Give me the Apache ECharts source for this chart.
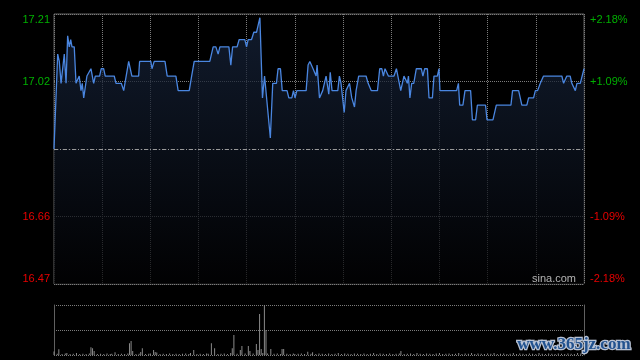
<!DOCTYPE html>
<html>
<head>
<meta charset="utf-8">
<script src="https://cdn.jsdelivr.net/npm/echarts@6/dist/echarts.min.js"></script>
<style>
html,body{margin:0;padding:0;background:#000;}
#c{width:640px;height:360px;}
</style>
</head>
<body>
<div id="c"></div>
<script>
// ---- data (minutes from 9:30 on the trading clock, HK session 330 min) ----
var prevClose = 16.84;
var priceMinutes = [0,2.3,3.3,4.4,6.4,7.5,8.5,9.5,10.4,11.2,12.6,13.7,14.7,15.7,16.8,17.6,18.5,19.7,20.5,21.6,23.0,23.6,24.7,25.7,28.4,29.4,30.9,31.9,37.5,38.6,41.9,43.4,44.4,46.5,47.5,48.5,52.7,53.3,60.3,61.0,62.4,69.1,70.5,75.9,77.3,84.2,85.7,87.3,97.0,99.1,100.8,102.2,103.3,108.9,110.1,111.2,114.0,115.3,118.8,119.9,120.9,123.0,124.4,126.1,128.2,128.8,129.8,131.1,132.3,134.7,136.2,138.5,139.5,141.0,142.1,145.1,146.2,148.1,149.1,150.1,151.2,157.0,158.2,159.3,160.1,161.3,162.4,163.2,163.8,165.3,166.3,167.3,168.4,169.4,170.5,171.1,172.0,173.1,176.7,177.7,178.7,180.7,181.8,182.9,184.0,185.4,186.0,187.1,188.1,189.7,194.3,195.6,197.5,201.4,202.8,204.1,205.1,206.1,207.2,208.2,211.7,213.2,214.2,215.9,217.1,217.9,219.0,220.0,220.7,221.6,222.7,224.0,225.6,228.7,229.7,230.8,232.5,233.5,235.6,236.6,238.7,239.7,240.3,250.7,251.8,252.6,254.6,255.9,259.4,260.5,262.5,263.6,268.7,269.6,273.3,275.4,284.5,285.5,289.3,291.3,294.4,295.5,298.6,299.7,301.1,302.8,303.6,304.8,316.2,317.3,318.3,319.3,321.4,322.4,323.5,324.6,325.6,327.7,330];
var priceValues = [16.84,17.10,17.08,17.02,17.10,17.02,17.15,17.12,17.14,17.12,17.12,17.02,17.02,17.04,17.00,17.02,16.98,16.98,17.04,17.04,17.06,17.06,17.02,17.04,17.04,17.06,17.06,17.04,17.04,17.02,17.02,17.00,17.00,17.08,17.08,17.04,17.04,17.08,17.08,17.06,17.08,17.08,17.04,17.04,17.00,17.00,17.04,17.08,17.08,17.12,17.12,17.10,17.12,17.12,17.07,17.12,17.12,17.14,17.14,17.12,17.14,17.14,17.16,17.16,17.20,17.20,16.98,17.04,17.04,16.87,17.02,17.02,17.06,17.06,17.00,17.00,16.98,16.98,17.00,16.98,17.00,17.00,17.07,17.08,17.08,17.06,17.06,17.04,17.07,16.98,16.98,17.00,17.00,17.04,17.04,16.99,17.05,17.00,17.00,17.04,17.02,16.94,17.00,17.00,17.02,16.98,16.98,16.955,17.00,17.04,17.04,17.02,17.00,17.00,17.06,17.06,17.04,17.06,17.06,17.04,17.04,17.06,17.06,17.00,17.00,17.04,17.03,17.02,17.04,16.98,17.02,17.02,17.06,17.06,17.04,17.06,17.06,16.98,16.98,17.04,17.04,17.06,17.00,17.00,17.02,16.96,16.96,17.00,17.00,16.92,16.92,16.96,16.96,16.92,16.92,16.96,16.96,17.00,17.00,16.96,16.96,16.98,16.98,17.00,17.00,17.02,17.02,17.04,17.04,17.02,17.02,17.04,17.04,17.02,17.02,17.00,17.02,17.02,17.06];
var volMinutes = [0,2,3,5,7,8,10,12,14,16,18,20,22,23,24,25,27,29,31,33,35,36,38,40,42,44,46,47,48,49,51,53,54,55,57,59,60,62,63,64,66,68,70,72,74,76,78,80,82,84,85,87,89,91,93,95,96,98,100,102,104,106,108,110,111,112,114,116,117,119,121,122,124,126,127,128,129,130,131,132,133,135,137,139,141,142,143,145,147,149,150,152,154,156,158,160,161,163,165,167,169,171,173,175,177,179,181,183,185,187,189,191,193,195,197,199,201,203,205,207,209,211,213,215,216,218,220,222,224,226,228,230,232,234,236,238,240,242,244,246,248,250,252,254,256,258,260,262,264,266,268,270,272,274,276,278,280,282,284,286,288,290,292,294,296,298,300,302,304,306,308,310,312,314,316,318,320,322,324,326,328,330];
var volAmounts = [35,12,57,10,15,20,10,12,20,10,12,10,15,77,67,40,10,12,10,15,10,12,27,10,12,10,15,117,140,40,10,12,30,67,10,12,15,50,30,25,10,12,10,15,10,12,10,12,15,10,20,50,10,12,10,15,12,117,67,10,12,15,10,20,67,200,12,50,90,15,90,40,15,110,50,410,60,20,500,250,15,60,12,15,10,60,60,12,10,15,10,12,15,10,33,12,27,10,15,12,10,15,10,12,20,10,15,12,10,15,12,10,15,10,12,20,10,15,12,10,15,10,12,15,40,10,12,15,10,20,12,10,15,12,10,15,20,10,12,15,10,12,20,10,15,12,20,10,15,12,10,15,12,20,10,12,15,10,12,20,10,15,12,10,15,12,10,20,12,10,15,12,10,15,12,10,15,12,10,20,15,25];
var leftLabels = ['16.47','16.66','','17.02','17.21'];
var rightLabels = ['-2.18%','-1.09%','','+1.09%','+2.18%'];
var yMin = 16.47, yMax = 17.21, yStep = 0.185;

var priceData = priceMinutes.map(function(m,i){return [m, priceValues[i]];});
var volData = volMinutes.map(function(m,i){return [m, volAmounts[i]];});

function idx(v){ return Math.round((v - yMin) / yStep); }
function labColor(v){ var i = idx(v); return i > 2 ? '#00b000' : '#e80000'; }

var chart = echarts.init(document.getElementById('c'), null, {renderer:'canvas'});
var dotted = {color:'#7c7c7c', type:[1,1], width:1};
chart.setOption({
  backgroundColor:'#000',
  animation:false,
  grid:[
    {left:54, top:14, width:530, height:270, show:true, borderColor:'#606060', borderWidth:1, backgroundColor:'transparent'},
    {left:54, top:305, width:530, height:50}
  ],
  xAxis:[
    {gridIndex:0, type:'value', min:0, max:330, interval:30, axisLine:{show:false}, axisTick:{show:false}, axisLabel:{show:false}, splitLine:{show:true, lineStyle:dotted}},
    {gridIndex:1, type:'value', min:0, max:330, interval:30, axisLine:{show:false}, axisTick:{show:false}, axisLabel:{show:false}, splitLine:{show:false}}
  ],
  yAxis:[
    {gridIndex:0, type:'value', min:yMin, max:yMax, interval:yStep, position:'left',
     axisLine:{show:false}, axisTick:{show:false},
     splitLine:{show:true, lineStyle:dotted},
     axisLabel:{show:true, margin:4, fontFamily:'Liberation Sans, Arial', fontSize:11,
       verticalAlignMinLabel:'bottom', verticalAlignMaxLabel:'top',
       color:function(v){return labColor(v);},
       formatter:function(v){return leftLabels[idx(v)] || '';}}},
    {gridIndex:0, type:'value', min:yMin, max:yMax, interval:yStep, position:'right',
     axisLine:{show:false}, axisTick:{show:false}, splitLine:{show:false},
     axisLabel:{show:true, margin:6, fontFamily:'Liberation Sans, Arial', fontSize:11,
       verticalAlignMinLabel:'bottom', verticalAlignMaxLabel:'top',
       color:function(v){return labColor(v);},
       formatter:function(v){return rightLabels[idx(v)] || '';}}},
    {gridIndex:1, type:'value', min:0, max:500, interval:250, position:'left',
     axisLine:{show:true, lineStyle:{color:'#606060'}}, axisTick:{show:false}, axisLabel:{show:false},
     splitLine:{show:true, lineStyle:dotted}},
    {gridIndex:1, type:'value', min:0, max:500, interval:250, position:'right',
     axisLine:{show:true, lineStyle:{color:'#606060'}}, axisTick:{show:false}, axisLabel:{show:false}, splitLine:{show:false}}
  ],
  graphic:[
    {type:'text', left:532, top:273, z:100, style:{text:'sina.com', fill:'#b4b4b4', font:'11px "Liberation Sans", Arial'}},
    {type:'text', left:516, top:335, z:100, style:{text:'www.365jz.com', fill:'#22528f', stroke:'#b8c2d4', lineWidth:2.5, font:'bold 17px "Liberation Serif", serif'}}
  ],
  series:[
    {type:'line', xAxisIndex:0, yAxisIndex:0, data:priceData, showSymbol:false, symbol:'none',
     lineStyle:{color:'#4a86e0', width:1.3},
     areaStyle:{color:new echarts.graphic.LinearGradient(0,0,0,1,[{offset:0,color:'#18263f'},{offset:1,color:'#020203'}])},
     markLine:{silent:true, symbol:'none', label:{show:false},
       lineStyle:{color:'#999999', type:[4,2,1,2], width:1},
       data:[{yAxis:prevClose}]}},
    {type:'bar', xAxisIndex:1, yAxisIndex:2, data:volData, barWidth:1, itemStyle:{color:'#8a8a8a'}}
  ]
});
</script>
</body>
</html>
